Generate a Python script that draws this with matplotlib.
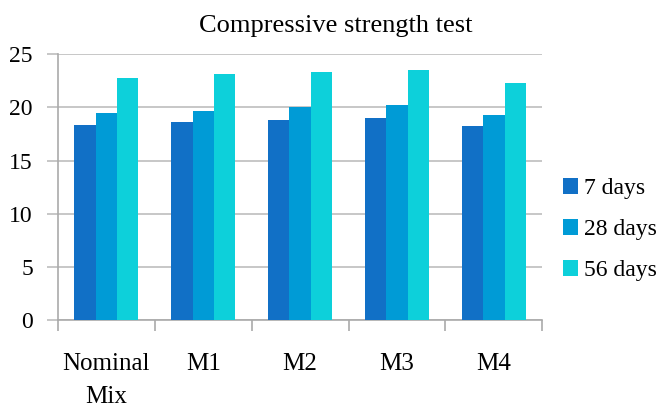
import numpy as np
import matplotlib
matplotlib.use("Agg")
from matplotlib import pyplot as plt

# data
categories = ["Nominal\nMix", "M1", "M2", "M3", "M4"]
series_names = ["7 days", "28 days", "56 days"]
days_7 = [18.3, 18.65, 18.85, 19.0, 18.25]
days_28 = [19.5, 19.7, 20.0, 20.2, 19.3]
days_56 = [22.8, 23.1, 23.3, 23.55, 22.25]
colors = ["#1170c6", "#009bd6", "#0dd0da"]

plt.rcParams['font.family'] = ['Liberation Serif', 'DejaVu Serif']

fig = plt.figure(figsize=(6.72, 4.07), dpi=100)
ax = fig.add_axes([0.0863, 0.2138, 0.7207, 0.653])

x = np.arange(len(categories))
w = 0.22
for i, (vals, name) in enumerate(zip([days_7, days_28, days_56], series_names)):
    ax.bar(x + (i - 1) * w, vals, w, color=colors[i], label=name, zorder=3)

ax.set_xlim(-0.5, len(categories) - 0.5)
ax.set_ylim(0, 25)
ax.set_yticks(range(0, 26, 5))
ax.set_yticklabels([str(v) for v in range(0, 26, 5)], fontsize=17)
ax.yaxis.grid(True, color="#bdbdbd", linewidth=1.2, zorder=0)

# category ticks sit on the boundaries, labels at the centres
ax.set_xticks(np.arange(-0.5, len(categories), 1.0))
ax.set_xticklabels([])
ax.set_xticks(x, minor=True)
ax.set_xticklabels(categories, minor=True, fontsize=18, linespacing=1.6)
ax.tick_params(axis="x", which="minor", length=0, pad=24)
ax.tick_params(axis="x", which="major", length=8, color="#aaaaaa", width=1.2)
ax.tick_params(axis="y", length=8, color="#bdbdbd", width=1.2, pad=10)

for s in ["top", "right"]:
    ax.spines[s].set_visible(False)
ax.spines["left"].set_color("#aaaaaa")
ax.spines["bottom"].set_color("#aaaaaa")
ax.spines["left"].set_linewidth(1.2)
ax.spines["bottom"].set_linewidth(1.2)

fig.text(0.5, 0.935, "Compressive strength test", ha="center", va="center", fontsize=19)

ax.legend(loc="center left", bbox_to_anchor=(0.998, 0.34), frameon=False,
          fontsize=17, handlelength=0.65, handleheight=0.65, handletextpad=0.25,
          labelspacing=0.85)

fig.savefig("out.png", dpi=100)
